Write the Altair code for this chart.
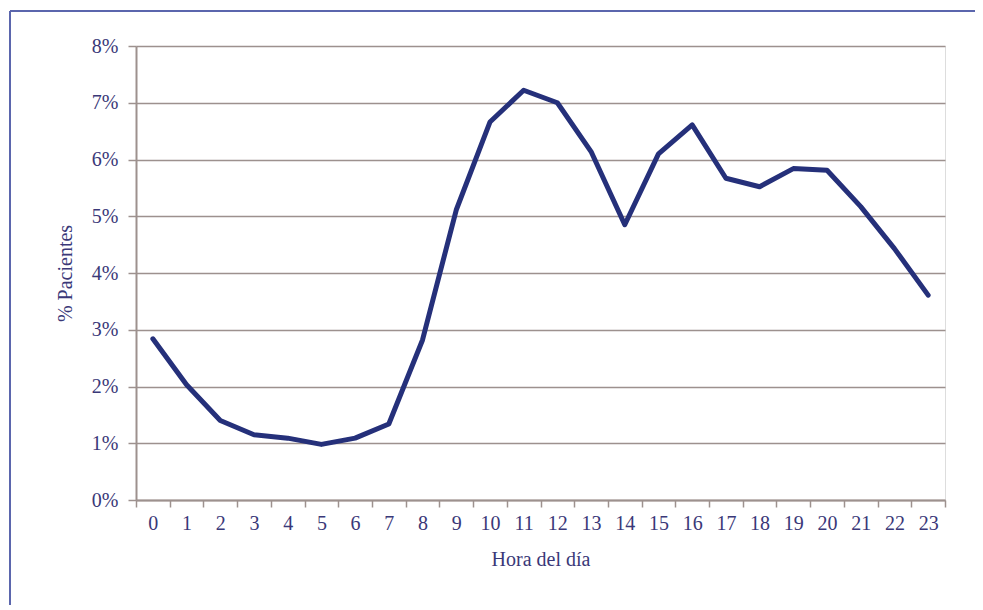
import altair as alt
import pandas as pd

hours = list(range(24))
pct = [2.84, 2.03, 1.40, 1.15, 1.09, 0.98, 1.09, 1.34, 2.82, 5.11, 6.66, 7.22,
       7.00, 6.14, 4.85, 6.10, 6.61, 5.67, 5.52, 5.84, 5.81, 5.17, 4.43, 3.61]

df = pd.DataFrame({"hora": hours, "pct": pct})

FONT = "Liberation Serif"
TXT = "#3a3878"
GRID = "#9d918e"
FS = 20

x = alt.X("hora:O", title="Hora del día",
          scale=alt.Scale(paddingInner=0, paddingOuter=0),
          axis=alt.Axis(labelAngle=0, tickBand="extent", tickSize=7, tickColor=GRID,
                        domainColor=GRID, domainWidth=2, tickWidth=1.5, labelPadding=6,
                        labelFontSize=FS, titleFontSize=FS, titlePadding=16,
                        labelColor=TXT, titleColor=TXT, labelFont=FONT, titleFont=FONT,
                        titleFontWeight="normal", grid=False))
y = alt.Y("pct:Q", title="% Pacientes",
          scale=alt.Scale(domain=[0, 8]),
          axis=alt.Axis(values=list(range(9)), labelExpr="datum.value + '%'",
                        tickSize=8, tickColor=GRID, domainColor=GRID, domainWidth=2,
                        tickWidth=1.5, labelPadding=10, gridColor=GRID, gridWidth=1.5,
                        labelFontSize=FS, titleFontSize=FS, titlePadding=16,
                        labelColor=TXT, titleColor=TXT, labelFont=FONT, titleFont=FONT,
                        titleFontWeight="normal"))

line = alt.Chart(df).mark_line(color="#25307a", strokeWidth=5, strokeJoin="round",
                               strokeCap="round").encode(x=x, y=y)

frame_left = alt.Chart(df).mark_rule(color="#5b66ad", strokeWidth=2).encode(
    x=alt.value(-126), y=alt.value(-35), y2=alt.value(620))
frame_top = alt.Chart(df).mark_rule(color="#5b66ad", strokeWidth=2).encode(
    x=alt.value(-126), x2=alt.value(900), y=alt.value(-35))

chart = alt.layer(line, frame_left, frame_top).properties(
    width=809, height=454,
    autosize=alt.AutoSizeParams(type="none"),
    padding={"left": 128, "top": 38, "right": 30, "bottom": 105},
).configure_view(stroke=None).configure(background="white")

chart.save("out.html", embed_options={"renderer": "svg", "actions": False})
